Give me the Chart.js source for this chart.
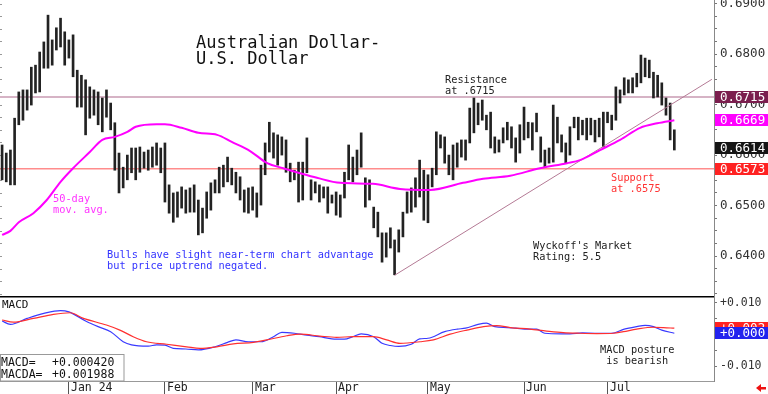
<!DOCTYPE html>
<html>
<head>
<meta charset="utf-8">
<title>Australian Dollar - U.S. Dollar</title>
<style>
  html, body { margin: 0; padding: 0; background: #fff; }
  #wrap { position: relative; width: 768px; height: 394px; overflow: hidden; }
  #price { position: absolute; left: 0; top: 0; }
  #macd { position: absolute; left: 0; top: 296px; }
</style>
</head>
<body>
<div id="wrap">
  <canvas id="price" width="768" height="296"></canvas>
  <canvas id="macd" width="768" height="98"></canvas>
</div>

<script src="https://cdn.jsdelivr.net/npm/chart.js"></script>

<script>
// daily bars, index 0 = early Dec 2023 ... index 161 = Jul 22 2024
const highs = [
  .6620,.6604,.6610,.6673,.6725,.6729,.6729,.6774,.6778,.6804,
  .6824,.6877,.6828,.6852,.6871,.6844,.6828,.6838,.6768,.6758,
  .6749,.6735,.6729,.6725,.6713,.6729,.6703,.6664,.6604,.6576,
  .6600,.6614,.6614,.6616,.6606,.6610,.6616,.6624,.6614,.6624,
  .6541,.6525,.6527,.6537,.6531,.6535,.6541,.6511,.6495,.6527,
  .6545,.6551,.6576,.6580,.6596,.6574,.6566,.6557,.6531,.6535,
  .6537,.6525,.6580,.6624,.6665,.6644,.6640,.6636,.6630,.6584,
  .6570,.6586,.6586,.6634,.6551,.6547,.6541,.6537,.6537,.6521,
  .6527,.6521,.6566,.6620,.6596,.6610,.6644,.6555,.6551,.6497,
  .6487,.6446,.6446,.6456,.6432,.6452,.6487,.6527,.6535,.6555,
  .6590,.6570,.6561,.6574,.6646,.6640,.6636,.6600,.6620,.6624,
  .6630,.6630,.6693,.6713,.6703,.6709,.6679,.6685,.6636,.6630,
  .6654,.6665,.6656,.6634,.6660,.6695,.6665,.6664,.6683,.6636,
  .6610,.6614,.6699,.6675,.6640,.6624,.6656,.6675,.6675,.6669,
  .6673,.6673,.6669,.6673,.6685,.6685,.6679,.6735,.6729,.6753,
  .6749,.6753,.6762,.6798,.6792,.6788,.6764,.6758,.6743,.6713,
  .6703,.6650
];
const lows = [
  .6551,.6547,.6541,.6541,.6660,.6669,.6689,.6699,.6723,.6725,
  .6772,.6772,.6778,.6808,.6814,.6778,.6792,.6755,.6695,.6695,
  .6640,.6673,.6679,.6660,.6646,.6675,.6650,.6570,.6525,.6535,
  .6551,.6565,.6551,.6566,.6574,.6570,.6576,.6580,.6565,.6507,
  .6485,.6467,.6477,.6495,.6485,.6487,.6487,.6442,.6446,.6475,
  .6491,.6525,.6525,.6537,.6547,.6541,.6525,.6511,.6487,.6485,
  .6491,.6477,.6501,.6561,.6606,.6594,.6580,.6600,.6566,.6547,
  .6551,.6507,.6511,.6565,.6511,.6525,.6507,.6515,.6485,.6505,
  .6481,.6477,.6515,.6551,.6547,.6561,.6576,.6497,.6511,.6456,
  .6438,.6388,.6398,.6416,.6363,.6408,.6438,.6485,.6487,.6497,
  .6517,.6471,.6466,.6537,.6561,.6614,.6584,.6561,.6551,.6576,
  .6596,.6590,.6624,.6644,.6660,.6669,.6650,.6614,.6604,.6606,
  .6624,.6630,.6614,.6586,.6604,.6630,.6634,.6610,.6646,.6586,
  .6576,.6584,.6586,.6624,.6606,.6584,.6600,.6654,.6630,.6640,
  .6630,.6640,.6626,.6636,.6616,.6664,.6650,.6669,.6703,.6719,
  .6723,.6723,.6735,.6743,.6755,.6753,.6713,.6715,.6699,.6679,
  .6630,.6610
];

// 50-day moving average, read at these bar positions
const maIdx  = [0,2,4,7.5,10.7,14,17,21,24,27,30,32,37,39,43,47,51.5,55,59.4,63.5,67.3,71.4,75.4,81,88.8,95.3,102.5,110.4,115.2,121.7,128.8,135.3,138.4,143.2,148,152.8,156.9,161];
const maVals = [.6442,.6450,.6467,.6485,.6511,.6547,.6574,.6606,.6630,.6636,.6646,.6656,.6661,.6661,.6654,.6644,.6640,.6626,.6608,.6584,.6574,.6564,.6555,.6545,.6543,.6533,.6531,.6545,.6553,.6559,.6574,.6584,.6590,.6610,.6630,.6654,.6663,.6669];

// MACD (blue) and MACDA signal (red)
const macdIdx  = [0,2,6,10,14,16,20,23,26,29,31,35,37,39,41,44,47,51,54,56,59,62,65,67,70,73,76,79,82,84,86,89,91,93,95,98,100,102,106,109,111,114,116,118,121,123,126,128,130,134,136,139,142,146,149,152,154,156,158,161];
const macdVals = [.0043,.0032,.0051,.0067,.0076,.0072,.0043,.0025,.0009,-.0023,-.0033,-.0037,-.0033,-.0034,-.0044,-.0046,-.0049,-.0039,-.0025,-.0017,-.0023,-.0023,-.0007,.0007,.0004,-.0002,-.0007,-.0014,-.0015,-.0007,.0002,-.0007,-.0028,-.0035,-.0038,-.0031,-.0014,-.0012,.0009,.0017,.0020,.0032,.0036,.0025,.0022,.0020,.0017,.0017,.0004,.0002,.0002,.0005,.0004,.0004,.0017,.0025,.0029,.0025,.0014,.0004];
const sigIdx  = [0,2.7,7.5,12.3,16.3,19.5,25,28.2,31.4,34.6,39.4,44.2,47.4,51.4,55.4,60.2,63.4,68.2,71.4,76.1,80.1,84.1,88.9,92.1,95.3,100.1,103.3,107.3,111.3,115.3,118.5,121.7,126.4,130.4,134.4,138.4,142.4,146.4,148.8,152,156,158.4,161];
const sigVals = [.0046,.0039,.0051,.0064,.0069,.0051,.0030,.0014,-.0007,-.0023,-.0031,-.0039,-.0044,-.0039,-.0030,-.0025,-.0017,-.0004,.0001,-.0005,-.0009,-.0007,-.0007,-.0017,-.0028,-.0023,-.0017,.0001,.0014,.0025,.0028,.0022,.0017,.0011,.0006,.0004,.0003,.0004,.0009,.0017,.0023,.0022,.0020];

// uptrend line from the April low
const trendIdx  = [94, 170];
const trendVals = [0.6362, 0.6750];

const monthTicks  = [16, 39, 60, 80, 102, 125, 145];
const monthLabels = ['Jan 24', 'Feb', 'Mar', 'Apr', 'May', 'Jun', 'Jul'];

const resistance = 0.6715;
const support = 0.6573;
const lastClose = 0.6614;
const lastMA = 0.6669;
const macdLast = 0.000420;
const macdaLast = 0.001988;

const MONO = '"DejaVu Sans Mono", monospace';
Chart.defaults.font.family = MONO;
Chart.defaults.animation = false;

const toXY = (idx, vals) => idx.map((x, i) => ({x: x, y: vals[i]}));
const priceTicks = [];
for (let v = 0.6325; v < 0.6901; v += 0.0025) priceTicks.push(+v.toFixed(4));

// keep the chart area flush with the canvas edges
const noPad = s => { s.paddingTop = 0; s.paddingBottom = 0; s.paddingLeft = 0; s.paddingRight = 0; };

function textLines(ctx, lines, x, y, lh, color, size) {
  ctx.save();
  ctx.fillStyle = color;
  ctx.font = size + 'px ' + MONO;
  ctx.textAlign = 'left';
  ctx.textBaseline = 'alphabetic';
  lines.forEach((t, i) => ctx.fillText(t, x, y + i * lh));
  ctx.restore();
}

function valueBox(ctx, y, fill, text) {
  ctx.save();
  ctx.fillStyle = fill;
  ctx.fillRect(715, Math.round(y - 6), 53, 12);
  ctx.fillStyle = '#fff';
  ctx.font = '12.5px ' + MONO;
  ctx.textAlign = 'left';
  ctx.textBaseline = 'middle';
  ctx.fillText(text, 720, y + 1);
  ctx.restore();
}

const pricePlugin = {
  id: 'priceExtras',
  beforeDatasetsDraw(chart) {
    const {ctx, chartArea: a, scales: {y}} = chart;
    ctx.save();
    // small ticks on the left edge
    ctx.fillStyle = '#999';
    priceTicks.forEach(v => ctx.fillRect(0, Math.round(y.getPixelForValue(v)), 2, 1));
    ctx.lineWidth = 1.5;
    ctx.strokeStyle = '#c99ab2';
    ctx.beginPath();
    ctx.moveTo(a.left, y.getPixelForValue(resistance));
    ctx.lineTo(a.right, y.getPixelForValue(resistance));
    ctx.stroke();
    ctx.strokeStyle = '#ff8c8c';
    ctx.beginPath();
    ctx.moveTo(a.left, y.getPixelForValue(support));
    ctx.lineTo(a.right, y.getPixelForValue(support));
    ctx.stroke();
    ctx.restore();
  },
  afterDraw(chart) {
    const {ctx, scales: {y}} = chart;
    textLines(ctx, ['Australian Dollar-', 'U.S. Dollar'], 196, 48, 16, '#111', 17);
    textLines(ctx, ['Resistance', 'at .6715'], 445, 83, 11, '#222', 10.3);
    textLines(ctx, ['50-day', 'mov. avg.'], 53, 202, 11, '#ff33ff', 10.3);
    textLines(ctx, ['Bulls have slight near-term chart advantage', 'but price uptrend negated.'], 107, 258, 11, '#3333ff', 10.3);
    textLines(ctx, ['Support', 'at .6575'], 611, 181, 11, '#ff3333', 10.3);
    textLines(ctx, ["Wyckoff's Market", 'Rating: 5.5'], 533, 249, 11, '#222', 10.3);
    valueBox(ctx, y.getPixelForValue(resistance), '#7b1e4e', resistance.toFixed(4));
    valueBox(ctx, y.getPixelForValue(lastMA), '#ff00ff', lastMA.toFixed(4));
    valueBox(ctx, y.getPixelForValue(lastClose), '#151515', lastClose.toFixed(4));
    valueBox(ctx, y.getPixelForValue(support), '#ff2222', support.toFixed(4));
  }
};

new Chart(document.getElementById('price'), {
  type: 'bar',
  data: {
    datasets: [
      {
        type: 'line',
        data: toXY(maIdx, maVals),
        borderColor: '#ff00ff',
        borderWidth: 2,
        pointRadius: 0,
        cubicInterpolationMode: 'monotone',
        order: 1
      },
      {
        type: 'line',
        data: toXY(trendIdx, trendVals),
        borderColor: '#b47a95',
        borderWidth: 1,
        pointRadius: 0,
        order: 2
      },
      {
        data: highs.map((h, i) => ({x: i, y: [lows[i], h]})),
        backgroundColor: '#222',
        borderWidth: 0,
        barThickness: 2,
        order: 3
      }
    ]
  },
  options: {
    responsive: false,
    animation: false,
    layout: {padding: 0},
    plugins: {legend: {display: false}, tooltip: {enabled: false}},
    scales: {
      x: {type: 'linear', min: -0.5, max: 170.5, offset: false, display: false},
      y: {
        position: 'right',
        min: 0.6321,
        max: 0.6907,
        afterBuildTicks: s => { s.ticks = priceTicks.map(v => ({value: v})); },
        afterFit: s => { s.width = 54; noPad(s); },
        grid: {drawOnChartArea: false, tickLength: 3, color: '#777'},
        border: {color: '#888'},
        ticks: {
          padding: 3,
          autoSkip: false,
          color: '#333',
          font: {size: 12.5},
          callback: v => Math.round(v * 10000) % 100 === 0 ? v.toFixed(4) : ''
        }
      }
    }
  },
  plugins: [pricePlugin]
});

const macdPlugin = {
  id: 'macdExtras',
  afterDraw(chart) {
    const {ctx, chartArea: a, scales: {x, y}} = chart;
    ctx.save();
    ctx.fillStyle = '#000';
    ctx.fillRect(0, 0, a.right, 1.5);
    // value readout box
    ctx.fillStyle = '#fff';
    ctx.fillRect(0, 58, 124, a.bottom - 58);
    ctx.strokeStyle = '#999';
    ctx.lineWidth = 1;
    ctx.strokeRect(0.5, 58.5, 123.5, a.bottom - 58.5);
    ctx.restore();
    // month names beside the tick lines
    monthTicks.forEach((t, i) => textLines(ctx, [monthLabels[i]], Math.round(x.getPixelForValue(t)) + 2, 95, 0, '#222', 11.5));
    textLines(ctx, ['MACD'], 2, 12, 11, '#111', 11);
    textLines(ctx, ['MACD=', 'MACDA='], 1, 70, 12, '#111', 11.5);
    textLines(ctx, ['+' + macdLast.toFixed(6), '+' + macdaLast.toFixed(6)], 52, 70, 12, '#111', 11.5);
    textLines(ctx, ['MACD posture', ' is bearish'], 600, 57, 10.5, '#222', 10.3);
    valueBox(ctx, y.getPixelForValue(macdaLast), '#ff2222', '+' + macdaLast.toFixed(3));
    valueBox(ctx, y.getPixelForValue(macdLast), '#2222ee', '+' + macdLast.toFixed(3));
    // red arrow bottom right
    ctx.save();
    ctx.fillStyle = '#ee1111';
    ctx.beginPath();
    ctx.moveTo(756, 92);
    ctx.lineTo(761, 88);
    ctx.lineTo(761, 96);
    ctx.closePath();
    ctx.fill();
    ctx.fillRect(760, 91, 6, 2.5);
    ctx.restore();
  }
};

new Chart(document.getElementById('macd'), {
  type: 'line',
  data: {
    datasets: [
      {
        data: toXY(sigIdx, sigVals),
        borderColor: '#ff3030',
        borderWidth: 1.2,
        pointRadius: 0,
        cubicInterpolationMode: 'monotone'
      },
      {
        data: toXY(macdIdx, macdVals),
        borderColor: '#3a3aff',
        borderWidth: 1.2,
        pointRadius: 0,
        cubicInterpolationMode: 'monotone'
      }
    ]
  },
  options: {
    responsive: false,
    animation: false,
    layout: {padding: 0},
    plugins: {legend: {display: false}, tooltip: {enabled: false}},
    scales: {
      x: {
        type: 'linear',
        min: -0.5,
        max: 170.5,
        offset: false,
        afterBuildTicks: s => { s.ticks = monthTicks.map(v => ({value: v})); },
        afterFit: s => { s.height = 13; noPad(s); },
        grid: {drawOnChartArea: false, drawTicks: true, tickLength: 13, color: '#555'},
        border: {color: '#999'},
        ticks: {display: false}
      },
      y: {
        position: 'right',
        min: -0.01476,
        max: 0.01222,
        afterBuildTicks: s => { s.ticks = [-0.01, -0.005, 0, 0.005, 0.01].map(v => ({value: v})); },
        afterFit: s => { s.width = 54; noPad(s); },
        grid: {drawOnChartArea: false, tickLength: 3, color: '#777'},
        border: {color: '#888'},
        ticks: {
          padding: 3,
          color: '#333',
          font: {size: 11.5},
          callback: v => Math.abs(Math.abs(v) - 0.01) < 1e-9 ? (v > 0 ? '+' : '') + v.toFixed(3) : ''
        }
      }
    }
  },
  plugins: [macdPlugin]
});
</script>
</body>
</html>
